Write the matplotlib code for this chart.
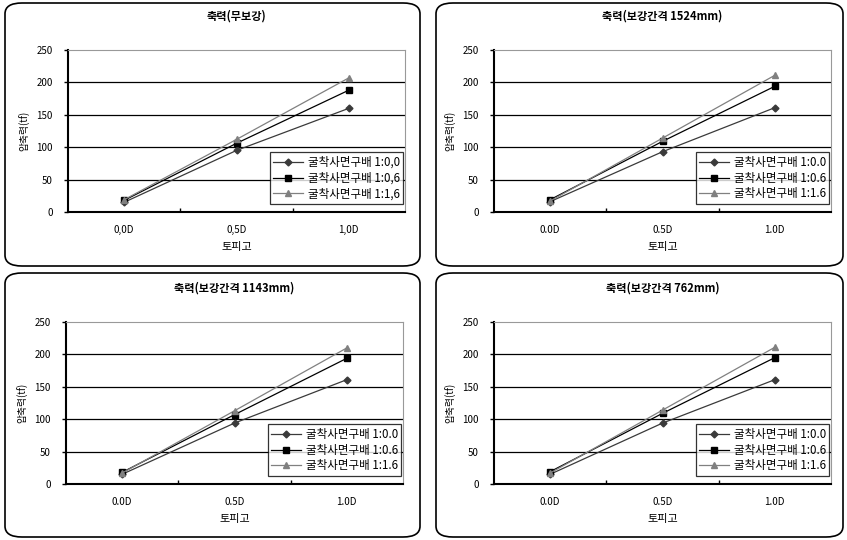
import matplotlib
matplotlib.use("Agg")
import matplotlib.pyplot as plt
from matplotlib.patches import FancyBboxPatch

plt.rcParams['font.family'] = ['Noto Sans CJK KR', 'DejaVu Sans']

categories = ["0.0D", "0.5D", "1.0D"]
categories_p1 = ["0,0D", "0,5D", "1,0D"]
titles = ["축력(무보강)", "축력(보강간격 1524mm)", "축력(보강간격 1143mm)", "축력(보강간격 762mm)"]
series_names = ["굴착사면구배 1:0.0", "굴착사면구배 1:0.6", "굴착사면구배 1:1.6"]
series_names_p1 = ["굴착사면구배 1:0,0", "굴착사면구배 1:0,6", "굴착사면구배 1:1,6"]

# values per panel: [1:0.0, 1:0.6, 1:1.6]
p1 = [[15, 95, 160], [18, 106, 188], [19, 112, 207]]
p2 = [[16, 93, 161], [19, 109, 194], [17, 114, 211]]
p3 = [[15, 94, 161], [18, 107, 194], [17, 113, 210]]
p4 = [[15, 94, 161], [19, 109, 195], [17, 114, 211]]
panels = [p1, p2, p3, p4]

yticks = [0, 50, 100, 150, 200, 250]
xlabel = "토피고"
ylabel = "압축력(tf)"

W, H = 847, 540
fig = plt.figure(figsize=(W / 100, H / 100), dpi=100)

colors = ["#3a3a3a", "#000000", "#808080"]
markers = ["D", "s", "^"]
msizes = [3.5, 5, 5]

boxes = [(5, 3, 420, 266), (436, 3, 843, 266), (5, 273, 420, 537), (436, 273, 843, 537)]
axrects = [(68, 50, 405, 212), (494, 50, 831, 212), (66, 322, 403, 484), (494, 322, 831, 484)]


def fx(x):
    return x / W


def fy(y):
    return 1 - y / H


for i in range(4):
    bx0, by0, bx1, by1 = boxes[i]
    box = FancyBboxPatch((fx(bx0), fy(by1)), fx(bx1 - bx0), (by1 - by0) / H,
                         boxstyle="round,pad=0,rounding_size=0.02",
                         transform=fig.transFigure, facecolor="white",
                         edgecolor="black", linewidth=1.2, zorder=-10)
    fig.add_artist(box)

for i in range(4):
    ax0, ay0, ax1, ay1 = axrects[i]
    ax = fig.add_axes([fx(ax0), fy(ay1), fx(ax1 - ax0), (ay1 - ay0) / H], zorder=5)
    data = panels[i]
    cats = categories_p1 if i == 0 else categories
    names = series_names_p1 if i == 0 else series_names
    xs = list(range(len(cats)))
    for k in range(3):
        ax.plot(xs, data[k], color=colors[k], marker=markers[k], markersize=msizes[k],
                linewidth=0.9, label=names[k], zorder=3)
    ax.set_xlim(-0.5, 2.5)
    ax.set_ylim(0, 250)
    ax.set_yticks(yticks)
    ax.set_yticklabels([str(v) for v in yticks], fontsize=7)
    ax.set_xticks([0.5, 1.5])
    ax.set_xticklabels([])
    ax.tick_params(axis='x', length=3, direction='in', width=1)
    ax.tick_params(axis='y', length=3, direction='out', width=1, pad=8)
    for xi, c in enumerate(cats):
        ax.text(xi, -0.08, c, transform=ax.get_xaxis_transform(), ha='center', va='top', fontsize=7)
    for v in yticks[1:-1]:
        ax.axhline(v, color='black', linewidth=0.9, zorder=1)
    ax.spines['top'].set_color('#999999')
    ax.spines['right'].set_color('#999999')
    ax.spines['left'].set_linewidth(1.5)
    ax.spines['bottom'].set_linewidth(1.5)
    ax.set_xlabel(xlabel, fontsize=8, labelpad=18)
    ax.set_ylabel(ylabel, fontsize=7, labelpad=4)
    ax.set_title(titles[i], fontsize=8, fontweight='bold', pad=22)
    leg = ax.legend(loc='lower right', bbox_to_anchor=(0.995, 0.05), fontsize=8.3, frameon=True,
                    fancybox=False, edgecolor='black', handlelength=2.6, borderpad=0.3,
                    labelspacing=0.25, handletextpad=0.4, borderaxespad=0.0)
    leg.get_frame().set_linewidth(0.9)

fig.savefig("out.png", dpi=100, facecolor="white")
